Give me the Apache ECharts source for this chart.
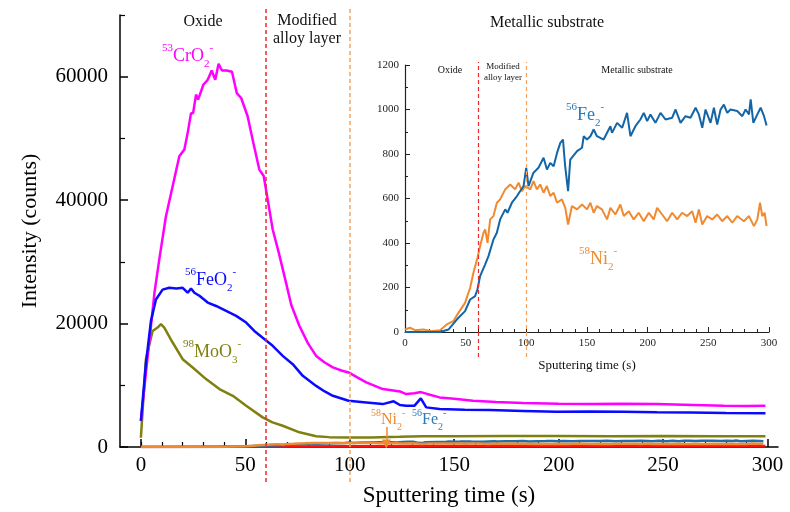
<!DOCTYPE html>
<html>
<head>
<meta charset="utf-8">
<script src="https://cdn.jsdelivr.net/npm/echarts@6/dist/echarts.min.js"></script>
<style>
html,body{margin:0;padding:0;background:#fff}
#main{width:790px;height:512px}
</style>
</head>
<body>
<div id="main"></div>
<script>
// main chart data, [time (s), counts]
var crO2 = [[0,4250],[2.4,12000],[4.8,19500],[6.5,25000],[8.8,30400],[12,37400],[15.2,42250],[18.4,47100],[20.8,48200],[22.4,50900],[24,54100],[25,54100],[26.4,57100],[27.4,56300],[29.9,58700],[32,59500],[33.9,61000],[35.6,59500],[37.2,62100],[38.8,61000],[41,61000],[43.6,60800],[45.9,57350],[48,56550],[51.1,53600],[53.5,49800],[56.7,44950],[58.8,43900],[61,39500],[63.1,35250],[66,31500],[69.5,26600],[72,23000],[75.9,19600],[80,16800],[83.9,14760],[88,13700],[91.9,12900],[96,12400],[99.4,12080],[104,11200],[107.9,10460],[112,9900],[115.8,9380],[120,9200],[124,9000],[127,8570],[131,8700],[134,8900],[137,8600],[143,8040],[150,7800],[159,7490],[170,7300],[183,7110],[200,7000],[215,6950],[230,7000],[247,6950],[260,6850],[279,6680],[290,6650],[299,6680]];
var feO2 = [[0,4250],[2.4,13500],[4.8,20400],[7.2,23900],[10.4,25500],[13.6,25800],[17,25700],[20,25800],[22.4,25000],[24,25700],[25.6,25000],[28,24500],[32,23400],[36,22850],[40.8,22050],[45.6,21250],[50.4,20160],[54.3,18800],[58.3,17700],[63.1,16400],[67.9,14760],[72.7,13420],[77.5,11530],[83.9,9900],[88,9000],[91.9,8300],[99.4,7490],[107.9,7220],[115.8,6950],[121,7400],[124,6800],[127,6680],[131,6700],[134,7870],[136.6,6420],[143,6150],[155,6050],[167,5980],[183,5850],[199,5710],[215,5750],[231,5710],[247,5650],[263,5610],[280,5500],[299,5450]];
var moO3 = [[0,1500],[2.4,14230],[5.6,18800],[8,19350],[9.6,19900],[11.2,19350],[15.2,16930],[20,14230],[24.8,12890],[31.2,11000],[37.6,9380],[44,8300],[50.4,6680],[58.3,4800],[63,4000],[67.9,3440],[75.9,2380],[83.9,1730],[90,1600],[99.4,1550],[110,1550],[123.8,1650],[135,1750],[150,1750],[175,1800],[200,1780],[225,1750],[250,1780],[275,1750],[299,1750]];
var redLow = [[0,0],[60,80],[100,120],[150,150],[200,160],[250,170],[299,180]];
// inset data (also drawn on main chart)
var fe2 = [[0,0],[10,0],[20,0],[29,0],[35.8,11],[42.7,56],[49.5,94],[53.7,146],[57.8,161],[59.7,191],[61.9,251],[66,303],[68.8,341],[72.9,416],[75.7,446],[78.4,506],[82.6,551],[84.5,536],[88.1,581],[92.3,611],[97.7,656],[99.9,738],[101.8,656],[105.9,716],[110,738],[114.2,783],[117,730],[119.7,760],[122.5,745],[125.3,805],[128,850],[130.2,865],[132,745],[134.4,633],[136.2,775],[141.8,813],[145.9,828],[147.3,880],[150,865],[152.8,880],[155.5,910],[158.2,880],[163.7,865],[169.3,925],[170.6,895],[174.8,940],[179,918],[183,985],[185.8,880],[189.9,925],[194,955],[196.8,985],[199.6,948],[202.3,978],[206.4,940],[210.6,985],[214.7,955],[220.2,963],[223,1000],[227.1,940],[231.2,970],[235.3,963],[239.5,1008],[242.2,978],[245,918],[247.7,1000],[251.8,940],[254.6,1008],[257.3,932],[260.1,1000],[262.8,1022],[265.6,985],[268.3,1000],[273.8,993],[278,970],[280.7,1000],[283.5,978],[284.9,1045],[287.1,940],[290.4,978],[293.1,1008],[295.9,970],[298,928]];
var ni2 = [[0,11],[4.1,19],[8.3,8],[15.1,11],[22,4],[28.9,8],[34.4,34],[39.9,49],[44,86],[49.5,131],[53.7,199],[56.4,266],[58.6,311],[59.7,333],[61.9,386],[64.7,446],[66.1,461],[68,401],[70.2,506],[72.9,521],[75.7,581],[78.4,596],[82.6,641],[86.7,663],[90.8,641],[93.6,671],[96.3,633],[99.1,656],[103.2,641],[105.9,678],[108.7,641],[111.4,663],[114.2,626],[116.9,656],[119.7,611],[122.5,626],[125.3,581],[129.3,596],[132.1,558],[134.4,483],[137.6,566],[141.8,551],[145.9,573],[150,551],[152.8,581],[155.5,536],[158.2,566],[162.3,551],[166.5,506],[169.3,558],[173.4,528],[177.5,573],[180.3,521],[184.4,543],[188.5,506],[192.6,536],[196.8,498],[200.9,536],[205,506],[207.8,558],[211.9,528],[216,498],[220.2,536],[224.3,506],[228.4,536],[232.5,521],[236.7,543],[239.5,491],[242.2,551],[245,483],[249,521],[253.2,506],[257.3,528],[261.4,498],[265.6,521],[269.7,491],[273.8,521],[279.3,498],[283.5,521],[287.6,476],[290.4,506],[292.6,581],[294.5,521],[296.4,536],[298,476]];

var mainXLabels = [0,50,100,150,200,250,300];
var mainXMinor = [0,10,20,30,40,60,70,80,90,110,120,130,140,160,170,180,190,210,220,230,240,260,270,280,290];
var mainYLabels = [0,20000,40000,60000];
var mainYMinor = [10000,30000,50000,70000];
var layerBounds = [60,100];

var serif = 'Liberation Serif';
var black = '#000';
var plain = function (v) { return String(v); };

function chem(x, y, iso, body, sub, color, size) {
    var small = Math.round(size * 0.62);
    return {
        type: 'text', x: x, y: y, z: 50,
        style: {
            text: '{sup|' + iso + '}{n|' + body + '}{sub|' + sub + '}{sup|-}',
            fill: color, align: 'left', verticalAlign: 'middle',
            rich: {
                sup: {fontSize: small, fontFamily: serif, fill: color, verticalAlign: 'top', lineHeight: small},
                n: {fontSize: size, fontFamily: serif, fill: color, lineHeight: Math.round(size * 1.5)},
                sub: {fontSize: small, fontFamily: serif, fill: color, verticalAlign: 'bottom', lineHeight: small}
            }
        }
    };
}
function label(x, y, txt, size) {
    return {type: 'text', x: x, y: y, style: {text: txt, fill: '#111', font: size + 'px "' + serif + '"', align: 'center', verticalAlign: 'middle'}};
}

var dashLines = function (w) {
    return {
        symbol: ['none', 'none'], silent: true, animation: false,
        label: {show: false},
        lineStyle: {type: [4, 3], width: w},
        data: [
            {xAxis: layerBounds[0], lineStyle: {color: '#f02a2a'}},
            {xAxis: layerBounds[1], lineStyle: {color: '#f5a460'}}
        ]
    };
};

var chart = echarts.init(document.getElementById('main'));
chart.setOption({
    animation: false,
    backgroundColor: '#fff',
    grid: [
        {left: 120, right: 12, top: 15, bottom: 64},
        {left: 120, right: 12, top: 8, bottom: 30},
        {left: 405, right: 21, top: 65, bottom: 180},
        {left: 405, right: 21, top: 62, bottom: 155}
    ],
    xAxis: [
        {gridIndex: 0, type: 'value', position: 'bottom', min: -10, max: 305,
            axisLine: {onZero: false, lineStyle: {color: black, width: 1.5}},
            axisTick: {inside: true, length: 8, customValues: mainXLabels, lineStyle: {color: black, width: 1.5}},
            axisLabel: {customValues: mainXLabels, formatter: plain, fontSize: 21, fontFamily: serif, color: black, margin: 8},
            splitLine: {show: false},
            name: 'Sputtering time (s)', nameLocation: 'middle', nameGap: 37,
            nameTextStyle: {fontSize: 23, fontFamily: serif, color: black}},
        {gridIndex: 0, type: 'value', position: 'bottom', min: -10, max: 305,
            axisLine: {show: false, onZero: false}, axisLabel: {show: false}, splitLine: {show: false},
            axisTick: {inside: true, length: 5, customValues: mainXMinor, lineStyle: {color: black, width: 1.2}}},
        {gridIndex: 1, type: 'value', min: -10, max: 305, show: false},
        {gridIndex: 2, type: 'value', position: 'bottom', min: 0, max: 300, interval: 50,
            axisLine: {onZero: false, lineStyle: {color: '#222', width: 1.2}},
            axisTick: {inside: true, length: 5, lineStyle: {color: '#222'}},
            minorTick: {show: true, splitNumber: 5, length: 3, lineStyle: {color: '#222'}},
            axisLabel: {formatter: plain, fontSize: 11, fontFamily: serif, color: '#222', margin: 6},
            splitLine: {show: false},
            name: 'Sputtering time (s)', nameLocation: 'middle', nameGap: 27,
            nameTextStyle: {fontSize: 13, fontFamily: serif, color: '#111'}},
        {gridIndex: 3, type: 'value', min: 0, max: 300, show: false}
    ],
    yAxis: [
        {gridIndex: 0, type: 'value', position: 'left', min: 0, max: 70000,
            axisLine: {show: true, onZero: false, lineStyle: {color: black, width: 1.5}},
            axisTick: {show: true, inside: true, length: 8, customValues: mainYLabels, lineStyle: {color: black, width: 1.5}},
            axisLabel: {customValues: mainYLabels, formatter: plain, fontSize: 21, fontFamily: serif, color: black, margin: 12},
            splitLine: {show: false},
            name: 'Intensity (counts)', nameLocation: 'middle', nameGap: 79,
            nameTextStyle: {fontSize: 22, fontFamily: serif, color: black}},
        {gridIndex: 0, type: 'value', position: 'left', min: 0, max: 70000,
            axisLine: {show: false, onZero: false}, axisLabel: {show: false}, splitLine: {show: false},
            axisTick: {show: true, inside: true, length: 5, customValues: mainYMinor, lineStyle: {color: black, width: 1.2}}},
        {gridIndex: 1, type: 'value', min: 0, max: 1, show: false},
        {gridIndex: 2, type: 'value', position: 'left', min: 0, max: 1200, interval: 200,
            axisLine: {show: true, onZero: false, lineStyle: {color: '#222', width: 1.2}},
            axisTick: {show: true, inside: true, length: 5, lineStyle: {color: '#222'}},
            minorTick: {show: true, splitNumber: 2, length: 3, lineStyle: {color: '#222'}},
            axisLabel: {formatter: plain, fontSize: 11, fontFamily: serif, color: '#222', margin: 6},
            splitLine: {show: false}},
        {gridIndex: 3, type: 'value', min: 0, max: 1, show: false}
    ],
    series: [
        {name: 'red', type: 'line', xAxisIndex: 0, yAxisIndex: 0, data: redLow, showSymbol: false,
            lineStyle: {color: '#ff1010', width: 2.5}},
        {name: 'Fe2 main', type: 'line', xAxisIndex: 0, yAxisIndex: 0, data: fe2, showSymbol: false,
            lineStyle: {color: '#1f6fae', width: 2.5}},
        {name: 'Ni2 main', type: 'line', xAxisIndex: 0, yAxisIndex: 0, data: ni2, showSymbol: false,
            lineStyle: {color: '#f08a30', width: 2.5},
            markLine: {silent: true, symbol: ['none', 'triangle'], symbolSize: 9, label: {show: false},
                lineStyle: {color: '#f08a30', width: 1.5, type: 'solid'},
                data: [[{coord: [117.5, 3230]}, {coord: [117.5, 500]}]]}},
        {name: 'MoO3', type: 'line', xAxisIndex: 0, yAxisIndex: 0, data: moO3, showSymbol: false,
            lineStyle: {color: '#808010', width: 2.5}},
        {name: 'CrO2', type: 'line', xAxisIndex: 0, yAxisIndex: 0, data: crO2, showSymbol: false,
            lineStyle: {color: '#ff00ff', width: 2.5}},
        {name: 'FeO2', type: 'line', xAxisIndex: 0, yAxisIndex: 0, data: feO2, showSymbol: false,
            lineStyle: {color: '#0a0aff', width: 2.5}},
        {name: 'bounds main', type: 'line', xAxisIndex: 2, yAxisIndex: 2, data: [], markLine: dashLines(1.5)},
        {name: 'Ni2', type: 'line', xAxisIndex: 3, yAxisIndex: 3, data: ni2, showSymbol: false,
            lineStyle: {color: '#f08a30', width: 2}},
        {name: 'Fe2', type: 'line', xAxisIndex: 3, yAxisIndex: 3, data: fe2, showSymbol: false,
            lineStyle: {color: '#1266a8', width: 2}},
        {name: 'bounds inset', type: 'line', xAxisIndex: 4, yAxisIndex: 4, data: [], markLine: dashLines(1.2)}
    ],
    graphic: [
        label(203, 22, 'Oxide', 16),
        label(307, 21, 'Modified', 16),
        label(307, 39, 'alloy layer', 16),
        label(547, 23, 'Metallic substrate', 16),
        label(450, 70, 'Oxide', 10),
        label(503, 67, 'Modified', 9),
        label(503, 78, 'alloy layer', 9),
        label(637, 70, 'Metallic substrate', 10),
        chem(162, 56, '53', 'CrO', '2', '#ff00ff', 18),
        chem(185, 280, '56', 'FeO', '2', '#0a0aff', 18),
        chem(183, 352, '98', 'MoO', '3', '#808010', 18),
        chem(371, 420, '58', 'Ni', '2', '#f08a30', 16),
        chem(412, 420, '56', 'Fe', '2', '#2a7ab8', 16),
        chem(566, 115, '56', 'Fe', '2', '#2a7ab8', 18),
        chem(579, 259, '58', 'Ni', '2', '#f08a30', 18)
    ]
});
</script>
</body>
</html>
